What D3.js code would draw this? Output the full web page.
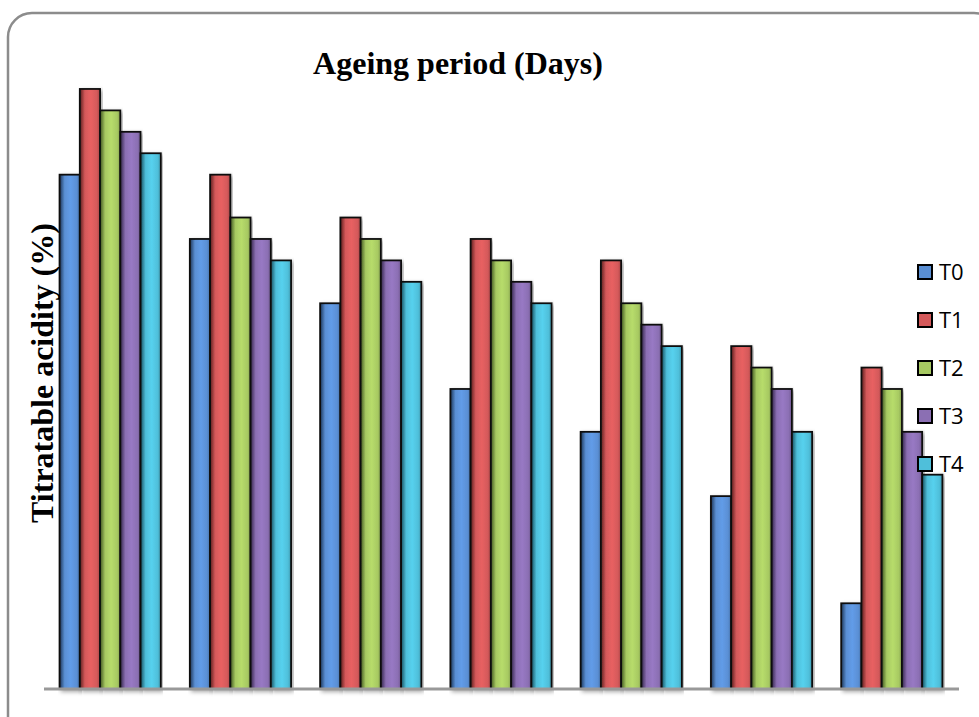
<!DOCTYPE html>
<html>
<head>
<meta charset="utf-8">
<title>Titratable acidity</title>
<script src="https://d3js.org/d3.v7.min.js"></script>
<style>
    body { margin: 0; background: #fff; overflow: hidden; }
    svg { display: block; }
    .title, .ylabel { font-family: "Liberation Serif", "Times New Roman", serif; font-weight: bold; fill: #000; }
    .legend text { font-family: "Open Sans", "Liberation Sans", sans-serif; fill: #000; }
</style>
</head>
<body>
<div id="chart"></div>
<script>
// ageing period groups (no tick labels shown in the original)
const days = ["0", "30", "60", "90", "120", "150", "180"];
const series = ["T0", "T1", "T2", "T3", "T4"];

// titratable acidity (%)
const T0 = [0.64, 0.61, 0.58, 0.54, 0.52, 0.49, 0.44];
const T1 = [0.68, 0.64, 0.62, 0.61, 0.60, 0.56, 0.55];
const T2 = [0.67, 0.62, 0.61, 0.60, 0.58, 0.55, 0.54];
const T3 = [0.66, 0.61, 0.60, 0.59, 0.57, 0.54, 0.52];
const T4 = [0.65, 0.60, 0.59, 0.58, 0.56, 0.52, 0.50];
const values = { T0, T1, T2, T3, T4 };

const colors = ["#5a8fd4", "#d4595a", "#a7c962", "#8b6fb3", "#4fbfda"];
const darks  = ["#1c3557", "#5a1d1c", "#3f5520", "#332549", "#174f5e"];

const width = 979, height = 717;
const margin = { top: 46, right: 22, bottom: 28, left: 45 };

const svg = d3.select("#chart").append("svg")
    .attr("width", width)
    .attr("height", height);

const defs = svg.append("defs");
series.forEach((s, i) => {
    const g = defs.append("linearGradient")
        .attr("id", "grad" + i)
        .attr("x1", "0%").attr("x2", "100%")
        .attr("y1", "0%").attr("y2", "0%");
    g.append("stop").attr("offset", "0%").attr("stop-color", darks[i]);
    g.append("stop").attr("offset", "25%").attr("stop-color", colors[i]);
    g.append("stop").attr("offset", "55%").attr("stop-color", d3.color(colors[i]).brighter(0.25));
    g.append("stop").attr("offset", "85%").attr("stop-color", colors[i]);
    g.append("stop").attr("offset", "100%").attr("stop-color", d3.color(colors[i]).darker(0.7));
});

const shadow = defs.append("filter").attr("id", "shadow")
    .attr("x", "-5%").attr("y", "-5%").attr("width", "115%").attr("height", "115%");
shadow.append("feDropShadow")
    .attr("dx", 2).attr("dy", 2).attr("stdDeviation", 2)
    .attr("flood-color", "#000").attr("flood-opacity", 0.35);

// chart frame
svg.append("rect")
    .attr("x", 8).attr("y", 13)
    .attr("width", 990).attr("height", 730)
    .attr("rx", 24).attr("ry", 24)
    .attr("fill", "#fff")
    .attr("stroke", "#8c8c8c")
    .attr("stroke-width", 2.5);

const x0 = d3.scaleBand()
    .domain(days)
    .range([margin.left, width - margin.right])
    .paddingInner(0.223)
    .paddingOuter(0.112);

const x1 = d3.scaleBand()
    .domain(series)
    .range([0, x0.bandwidth()]);

const y = d3.scaleLinear()
    .domain([0.40, 0.70])
    .range([689, 689 - 30 * 21.43]);

const groups = svg.append("g")
    .selectAll("g")
    .data(days)
    .join("g")
    .attr("transform", d => `translate(${x0(d)},0)`);

groups.selectAll("rect")
    .data((d, gi) => series.map((s, si) => ({ s, si, v: values[s][gi] })))
    .join("rect")
    .attr("x", d => x1(d.s))
    .attr("y", d => y(d.v))
    .attr("width", x1.bandwidth())
    .attr("height", d => y(y.domain()[0]) - y(d.v))
    .attr("fill", d => `url(#grad${d.si})`)
    .attr("stroke", "#111")
    .attr("stroke-width", 1.8)
    .attr("filter", "url(#shadow)");

// category axis: only the baseline is drawn
const xAxis = svg.append("g")
    .attr("transform", `translate(0,${y(y.domain()[0])})`)
    .call(d3.axisBottom(x0).tickSize(0).tickFormat(""));
xAxis.select(".domain")
    .attr("stroke", "#999")
    .attr("stroke-width", 3)
    .attr("d", `M${margin.left - 1},0H${width - margin.right + 2}`);

svg.append("text")
    .attr("class", "title")
    .attr("x", 458)
    .attr("y", 74)
    .attr("text-anchor", "middle")
    .style("font-size", "32px")
    .text("Ageing period (Days)");

svg.append("text")
    .attr("class", "ylabel")
    .attr("transform", "translate(53,373) rotate(-90)")
    .attr("text-anchor", "middle")
    .style("font-size", "32px")
    .text("Titratable acidity (%)");

const legend = svg.append("g").attr("class", "legend")
    .selectAll("g")
    .data(series)
    .join("g")
    .attr("transform", (d, i) => `translate(918,${272 + i * 48})`);

legend.append("rect")
    .attr("x", 0).attr("y", -7)
    .attr("width", 14).attr("height", 14)
    .attr("fill", (d, i) => colors[i])
    .attr("stroke", "#000")
    .attr("stroke-width", 2);

legend.append("text")
    .attr("x", 21)
    .attr("y", 8)
    .style("font-size", "22px")
    .text(d => d);
</script>
</body>
</html>
